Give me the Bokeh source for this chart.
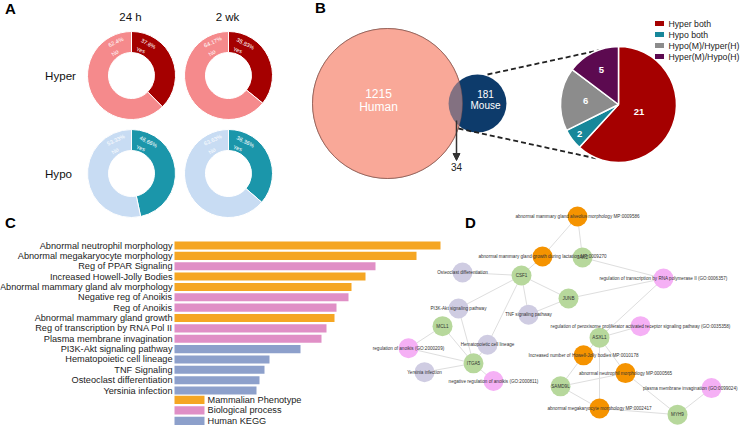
import numpy as np
from bokeh.plotting import figure
from bokeh.models import Range1d, Arrow, NormalHead
from bokeh.core.properties import value
from bokeh.embed import file_html
from bokeh.resources import INLINE

# ---------------- data ----------------
# Panel A: share of DMRs (Yes / No)
donut_groups = ["Hyper", "Hypo"]
timepoints = ["24 h", "2 wk"]
yes_pct = [[37.6, 35.83], [46.66, 36.36]]
no_pct = [[62.4, 64.17], [53.33, 63.63]]

# Panel B: Venn + overlap pie
venn_sets = ["Human", "Mouse"]
venn_counts = [1215, 181]
overlap_count = 34
pie_categories = ["Hyper both", "Hypo both", "Hypo(M)/Hyper(H)", "Hyper(M)/Hypo(H)"]
pie_counts = [21, 2, 6, 5]

# Panel C: enrichment
terms = ["Abnormal neutrophil morphology", "Abnormal megakaryocyte morphology",
         "Reg of PPAR Signaling", "Increased Howell-Jolly Bodies",
         "Abnormal mammary gland alv morphology", "Negative reg of Anoikis",
         "Reg of Anoikis", "Abnormal mammary gland growth",
         "Reg of transcription by RNA Pol II", "Plasma membrane invagination",
         "PI3K-Akt signaling pathway", "Hematopoietic cell lineage",
         "TNF Signaling", "Osteoclast differentiation", "Yersinia infection"]
scores = [26.6, 24.2, 20.1, 19.1, 17.7, 17.4, 16.2, 16.0, 15.2, 14.7, 12.6, 9.5, 9.0, 8.5, 8.2]
term_groups = ["Mammalian Phenotype", "Mammalian Phenotype", "Biological process",
               "Mammalian Phenotype", "Mammalian Phenotype", "Biological process",
               "Biological process", "Mammalian Phenotype", "Biological process",
               "Biological process", "Human KEGG", "Human KEGG", "Human KEGG",
               "Human KEGG", "Human KEGG"]
group_names = ["Mammalian Phenotype", "Biological process", "Human KEGG"]

# Panel D: network
node_names = [
    "abnormal mammary gland alveolus morphology MP:0009586",
    "abnormal mammary gland growth during lactation MP:0009270",
    "JAK2", "CSF1", "Osteoclast differentiation",
    "regulation of transcription by RNA polymerase II (GO:0006357)",
    "JUNB", "PI3K-Akt signaling pathway", "TNF signaling pathway", "MCL1",
    "regulation of peroxisome proliferator activated receptor signaling pathway (GO:0035358)",
    "ASXL1", "Hematopoietic cell lineage", "regulation of anoikis (GO:2000209)",
    "Increased number of Howell-Jolly bodies MP:0010178", "ITGA5",
    "abnormal neutrophil morphology MP:0000565", "Yersinia infection",
    "negative regulation of anoikis (GO:2000811)", "SAMD9L",
    "plasma membrane invagination (GO:0099024)",
    "abnormal megakaryocyte morphology MP:0002417", "MYH9"]
node_types = ["MP", "MP", "gene", "gene", "KEGG", "GO", "gene", "KEGG", "KEGG", "gene",
              "GO", "gene", "KEGG", "GO", "MP", "gene", "MP", "KEGG", "GO", "gene",
              "GO", "MP", "gene"]
edges = [(0, 1), (0, 2), (1, 3), (2, 5), (3, 4), (3, 6), (3, 7), (3, 8), (3, 12),
         (6, 5), (6, 8), (5, 11), (7, 15), (9, 13), (9, 15), (12, 15), (13, 15),
         (17, 15), (15, 18), (10, 11), (11, 14), (11, 16), (11, 21), (14, 19),
         (16, 19), (16, 22), (19, 21), (21, 22), (22, 20)]

# ---------------- layout (pixel space of the panel arrangement) ----------------
W, H = 740, 425
FONT = "Liberation Sans"
def Y(y):
    return H - y
def fs(px):
    return value(f"{px:.2f}px")
def d_y(y):
    # network layout squeezed slightly so that it fits the bottom edge
    return y if y <= 300 else 300 + (y - 300) * 0.885

node_pos = [(577, 216), (542, 256), (582, 257), (521, 275), (462, 272), (663, 278),
            (568, 298), (458, 309), (528, 316), (442, 329), (640, 329), (599, 342),
            (487, 350), (408, 354), (583, 362), (473, 371), (625, 382), (424, 381),
            (493, 391), (560, 397), (711, 399), (599, 422), (677, 429)]

p = figure(width=W, height=H, x_range=Range1d(0, W), y_range=Range1d(0, H),
           toolbar_location=None, output_backend="svg", min_border=0)
p.axis.visible = False
p.grid.visible = False
p.outline_line_color = None
p.background_fill_color = "white"

# panel letters
p.text(x=[10, 320, 10, 470], y=[Y(8), Y(7), Y(222), Y(222)], text=["A", "B", "C", "D"],
       text_font=value(FONT), text_font_size=fs(15), text_font_style="bold",
       text_align="center", text_baseline="middle", text_color="black")

# ---------------- Panel A ----------------
col_x = [131, 228]
row_y = [75, 173]
inner_r, outer_r = 23, 44
yes_colors = ["#a50000", "#1b96aa"]
no_colors = ["#f58a8c", "#c8dcf3"]

p.text(x=[130, 227], y=[Y(16)] * 2, text=timepoints, text_font=value(FONT), text_font_size=fs(11.5),
       text_align="center", text_baseline="middle", text_color="#111")
p.text(x=[60, 58], y=[Y(ry) for ry in row_y], text=donut_groups, text_font=value(FONT),
       text_font_size=fs(11.6), text_align="center", text_baseline="middle", text_color="#111")

def polar(cx, cy, r, deg):
    t = np.radians(deg)
    return cx + r * np.sin(t), Y(cy - r * np.cos(t))

for gi in range(len(donut_groups)):
    for ti in range(len(timepoints)):
        cx, cy = col_x[ti], row_y[gi]
        yv, nv = yes_pct[gi][ti], no_pct[gi][ti]
        frac = yv / (yv + nv)
        a0 = np.pi / 2
        a1 = np.pi / 2 - 2 * np.pi * frac
        p.annular_wedge(x=cx, y=Y(cy), inner_radius=inner_r, outer_radius=outer_r,
                        start_angle=a0, end_angle=a1, direction="clock",
                        fill_color=yes_colors[gi], line_color="white", line_width=1)
        p.annular_wedge(x=cx, y=Y(cy), inner_radius=inner_r, outer_radius=outer_r,
                        start_angle=a1, end_angle=a0 - 2 * np.pi + 1e-6, direction="clock",
                        fill_color=no_colors[gi], line_color="white", line_width=1)
        lx, ly, lt, la = [], [], [], []
        for (r, d, t) in [(36, 28, f"{yv:g}%"), (27, 20, "Yes"),
                          (37, -25, f"{nv:g}%"), (28, -36, "No")]:
            x_, y_ = polar(cx, cy, r, d)
            lx.append(x_); ly.append(y_); lt.append(t); la.append(-np.radians(d))
        p.text(x=lx, y=ly, text=lt, angle=la, text_font=value(FONT), text_font_size=fs(5.6),
               text_align="center", text_baseline="middle", text_color="white")

# ---------------- Panel B ----------------
venn_scale = 75 / np.sqrt(1215)
venn_cx = [387, 477]
venn_cy = 103
diam = [2 * venn_scale * np.sqrt(c) for c in venn_counts]
p.scatter(x=[venn_cx[0]], y=[Y(venn_cy)], size=diam[0], marker="circle", fill_color="#f9a898",
          line_color="#7d4c44", line_width=0.8)
p.scatter(x=[venn_cx[1]], y=[Y(venn_cy)], size=diam[1], marker="circle", fill_color="#0d3b6b",
          line_color=None)
p.scatter(x=[venn_cx[0]], y=[Y(venn_cy)], size=diam[0], marker="circle", fill_color="#f9a898",
          fill_alpha=0.5, line_color="#7d4c44", line_alpha=0.5, line_width=0.8)
p.text(x=[378, 378], y=[Y(93), Y(106)], text=[str(venn_counts[0]), venn_sets[0]],
       text_font=value(FONT), text_font_size=fs(12), text_align="center",
       text_baseline="middle", text_color="white")
p.text(x=[485, 485], y=[Y(93), Y(105)], text=[str(venn_counts[1]), venn_sets[1]],
       text_font=value(FONT), text_font_size=fs(10), text_align="center",
       text_baseline="middle", text_color="white")
p.add_layout(Arrow(end=NormalHead(size=7, fill_color="#333", line_color="#333"),
                   x_start=456, y_start=Y(120), x_end=456, y_end=Y(160),
                   line_color="#333", line_width=1.5))
p.text(x=[456], y=[Y(166)], text=[str(overlap_count)], text_font=value(FONT),
       text_font_size=fs(10), text_align="center", text_baseline="middle", text_color="#222")

# connectors
p.line(x=[487, 602], y=[Y(74), Y(49)], line_dash="5 3", line_width=1.8, line_color="#222")
p.line(x=[458, 596], y=[Y(128), Y(158)], line_dash="5 3", line_width=1.8, line_color="#222")

pie_cx, pie_cy, pie_r = 618, 104, 58
pie_colors = ["#a50000", "#17879a", "#8c8c8c", "#5c0a50"]
label_frac = [0.38, 0.84, 0.57, 0.66]
tot = sum(pie_counts)
cum = 0
for i, c in enumerate(pie_counts):
    s = np.pi / 2 - 2 * np.pi * cum / tot
    e = np.pi / 2 - 2 * np.pi * (cum + c) / tot
    p.wedge(x=pie_cx, y=Y(pie_cy), radius=pie_r, start_angle=s, end_angle=e,
            direction="clock", fill_color=pie_colors[i], line_color="white", line_width=1.5)
    mid = 360 * (cum + c / 2) / tot
    lx, ly = polar(pie_cx, pie_cy, pie_r * label_frac[i], mid)
    p.text(x=[lx], y=[ly], text=[str(c)], text_font=value(FONT), text_font_size=fs(9.5),
           text_font_style="bold", text_align="center", text_baseline="middle",
           text_color="white")
    cum += c

leg_y = [23, 34, 45, 56]
p.rect(x=[659] * 4, y=[Y(v) for v in leg_y], width=9, height=5, fill_color=pie_colors,
       line_color=None)
p.text(x=[668] * 4, y=[Y(v) for v in leg_y], text=pie_categories, text_font=value(FONT),
       text_font_size=fs(8.7), text_align="left", text_baseline="middle", text_color="#222")

# ---------------- Panel C ----------------
C_X0, C_UNIT = 174, 10.0         # value 0 at x=174, 10 px per unit
C_Y0, C_STEP = 245, 10.36
p.extra_x_ranges = {"cx": Range1d(-C_X0 / C_UNIT, (W - C_X0) / C_UNIT)}
p.extra_y_ranges = {"cy": Range1d((H - C_Y0) / C_STEP, -C_Y0 / C_STEP)}
group_colors = {"Mammalian Phenotype": "#f5a623", "Biological process": "#e08fc6",
                "Human KEGG": "#8da0cb"}
idx = list(range(len(terms)))
p.hbar(y=idx, left=0, right=scores, height=0.78, fill_color=[group_colors[g] for g in term_groups],
       line_color=None, x_range_name="cx", y_range_name="cy")
p.text(x=[-0.2] * len(terms), y=idx, text=terms, text_font=value(FONT), text_font_size=fs(9.2),
       text_align="right", text_baseline="middle", text_color="#222",
       x_range_name="cx", y_range_name="cy")
lg_y = [14.9 + 1.02 * k for k in range(len(group_names))]
p.rect(x=[1.5] * 3, y=lg_y, width=3.0, height=0.8,
       fill_color=[group_colors[g] for g in group_names], line_color=None,
       x_range_name="cx", y_range_name="cy")
p.text(x=[3.3] * 3, y=lg_y, text=group_names, text_font=value(FONT), text_font_size=fs(9.2),
       text_align="left", text_baseline="middle", text_color="#222",
       x_range_name="cx", y_range_name="cy")

# ---------------- Panel D ----------------
type_colors = {"MP": "#f59300", "GO": "#f5b0f5", "KEGG": "#cfcce2", "gene": "#b7d89c"}
ex, ey = [], []
for a, b in edges:
    ex.append([node_pos[a][0], node_pos[b][0]])
    ey.append([Y(d_y(node_pos[a][1])), Y(d_y(node_pos[b][1]))])
p.multi_line(xs=ex, ys=ey, line_color="#dedede", line_width=1)
nx = [q[0] for q in node_pos]
ny = [Y(d_y(q[1])) for q in node_pos]
p.scatter(x=nx, y=ny, size=20, marker="circle",
          fill_color=[type_colors[t] for t in node_types], line_color=None)
# labels centred on their nodes; the one at the right edge is end-aligned to stay inside
edge_label = [i for i, q in enumerate(node_pos) if q[0] > 700]
mid_label = [i for i in range(len(node_pos)) if i not in edge_label]
p.text(x=[nx[i] for i in mid_label], y=[ny[i] for i in mid_label],
       text=[node_names[i] for i in mid_label], text_font=value(FONT), text_font_size=fs(4.6),
       text_align="center", text_baseline="middle", text_color="#333")
p.text(x=[W - 3] * len(edge_label), y=[ny[i] for i in edge_label],
       text=[node_names[i] for i in edge_label], text_font=value(FONT), text_font_size=fs(4.6),
       text_align="right", text_baseline="middle", text_color="#333")

open("out.html", "w").write(file_html(p, INLINE))
